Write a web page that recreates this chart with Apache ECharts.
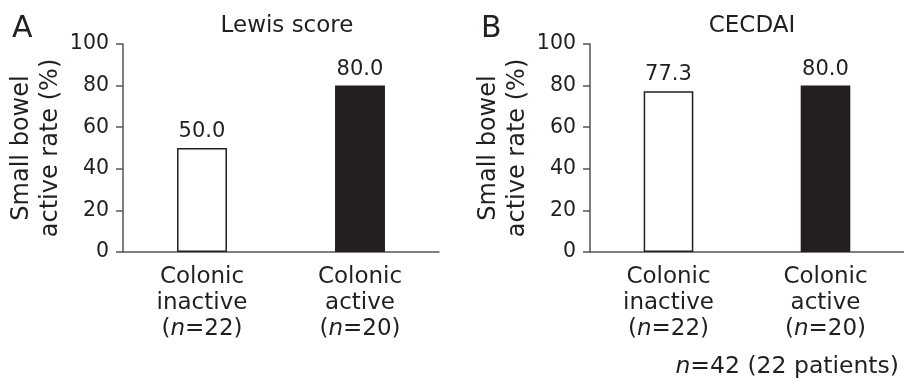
<!DOCTYPE html>
<html><head><meta charset="utf-8">
<script src="https://cdn.jsdelivr.net/npm/echarts@6/dist/echarts.min.js"></script>
<style>html,body{margin:0;padding:0;background:#fff}#c{width:904px;height:379px}</style>
</head><body><div id="c"></div>
<script>
const categories = ['Colonic\ninactive\n({i|n}=22)', 'Colonic\nactive\n({i|n}=20)'];
const lewisValues = [50.0, 80.0];
const cecdaiValues = [77.3, 80.0];
const yTicks = [0, 20, 40, 60, 80, 100];
const panelTitles = ['Lewis score', 'CECDAI'];
const panelLetters = ['A', 'B'];
const yName = 'Small bowel\nactive rate (%)';
const footnote = '{i|n}=42 (22 patients)';

const txt = '#231f20';
const font = 'DejaVu Sans';
const barColors = ['#ffffff', '#231f20'];

const chart = echarts.init(document.getElementById('c'), null, {renderer: 'canvas'});
const grids = [
  {left: 123, right: 465, top: 44, bottom: 127},
  {left: 590, right: 0, top: 44, bottom: 127}
];
function xAxis(i) {
  return {
    type: 'category', gridIndex: i, data: categories,
    axisLine: {lineStyle: {color: '#555', width: 1.5}},
    axisTick: {show: false},
    axisLabel: {interval: 0, hideOverlap: false, color: txt, fontFamily: font, fontSize: 23, lineHeight: 26, margin: 12,
      rich: {i: {fontStyle: 'italic', fontFamily: font, fontSize: 23, color: txt, lineHeight: 26}}}
  };
}
function yAxis(i) {
  return {
    type: 'value', gridIndex: i, min: 0, max: 100, interval: 20,
    name: yName, nameLocation: 'middle', nameGap: 58, nameRotate: 90,
    nameTextStyle: {color: txt, fontFamily: font, fontSize: 24, lineHeight: 29},
    axisLine: {show: true, lineStyle: {color: '#555', width: 1.5}},
    axisTick: {show: true, length: 7, lineStyle: {color: '#555', width: 1.5}},
    splitLine: {show: false},
    axisLabel: {color: txt, fontFamily: font, fontSize: 20.5, margin: 14,
      formatter: v => yTicks.includes(v) ? String(v) : ''}
  };
}
function series(i, vals) {
  return {
    type: 'bar', xAxisIndex: i, yAxisIndex: i, barWidth: '31.6%',
    data: vals.map((v, k) => ({value: v, itemStyle: {color: barColors[k], borderColor: '#231f20', borderWidth: k === 0 ? 1.5 : 0}})),
    label: {show: true, position: 'top', distance: 6, color: txt, fontFamily: font, fontSize: 21,
      formatter: p => p.value.toFixed(1)},
    animation: false
  };
}
chart.setOption({
  animation: false,
  grid: grids,
  xAxis: [xAxis(0), xAxis(1)],
  yAxis: [yAxis(0), yAxis(1)],
  series: [series(0, lewisValues), series(1, cecdaiValues)],
  title: [
    {text: panelTitles[0], left: 282, top: 10, textAlign: 'center', textStyle: {color: txt, fontFamily: font, fontSize: 23, fontWeight: 'normal'}},
    {text: panelTitles[1], left: 747, top: 10, textAlign: 'center', textStyle: {color: txt, fontFamily: font, fontSize: 23, fontWeight: 'normal'}},
    {text: panelLetters[0], left: 7, top: 9, textStyle: {color: txt, fontFamily: font, fontSize: 30, fontWeight: 'normal'}},
    {text: panelLetters[1], left: 476, top: 9, textStyle: {color: txt, fontFamily: font, fontSize: 30, fontWeight: 'normal'}},
    {text: footnote, right: 0, top: 350, textStyle: {color: txt, fontFamily: font, fontSize: 23.5, fontWeight: 'normal',
      rich: {i: {fontStyle: 'italic', fontFamily: font, fontSize: 23.5, color: txt}}}}
  ]
});
</script></body></html>
